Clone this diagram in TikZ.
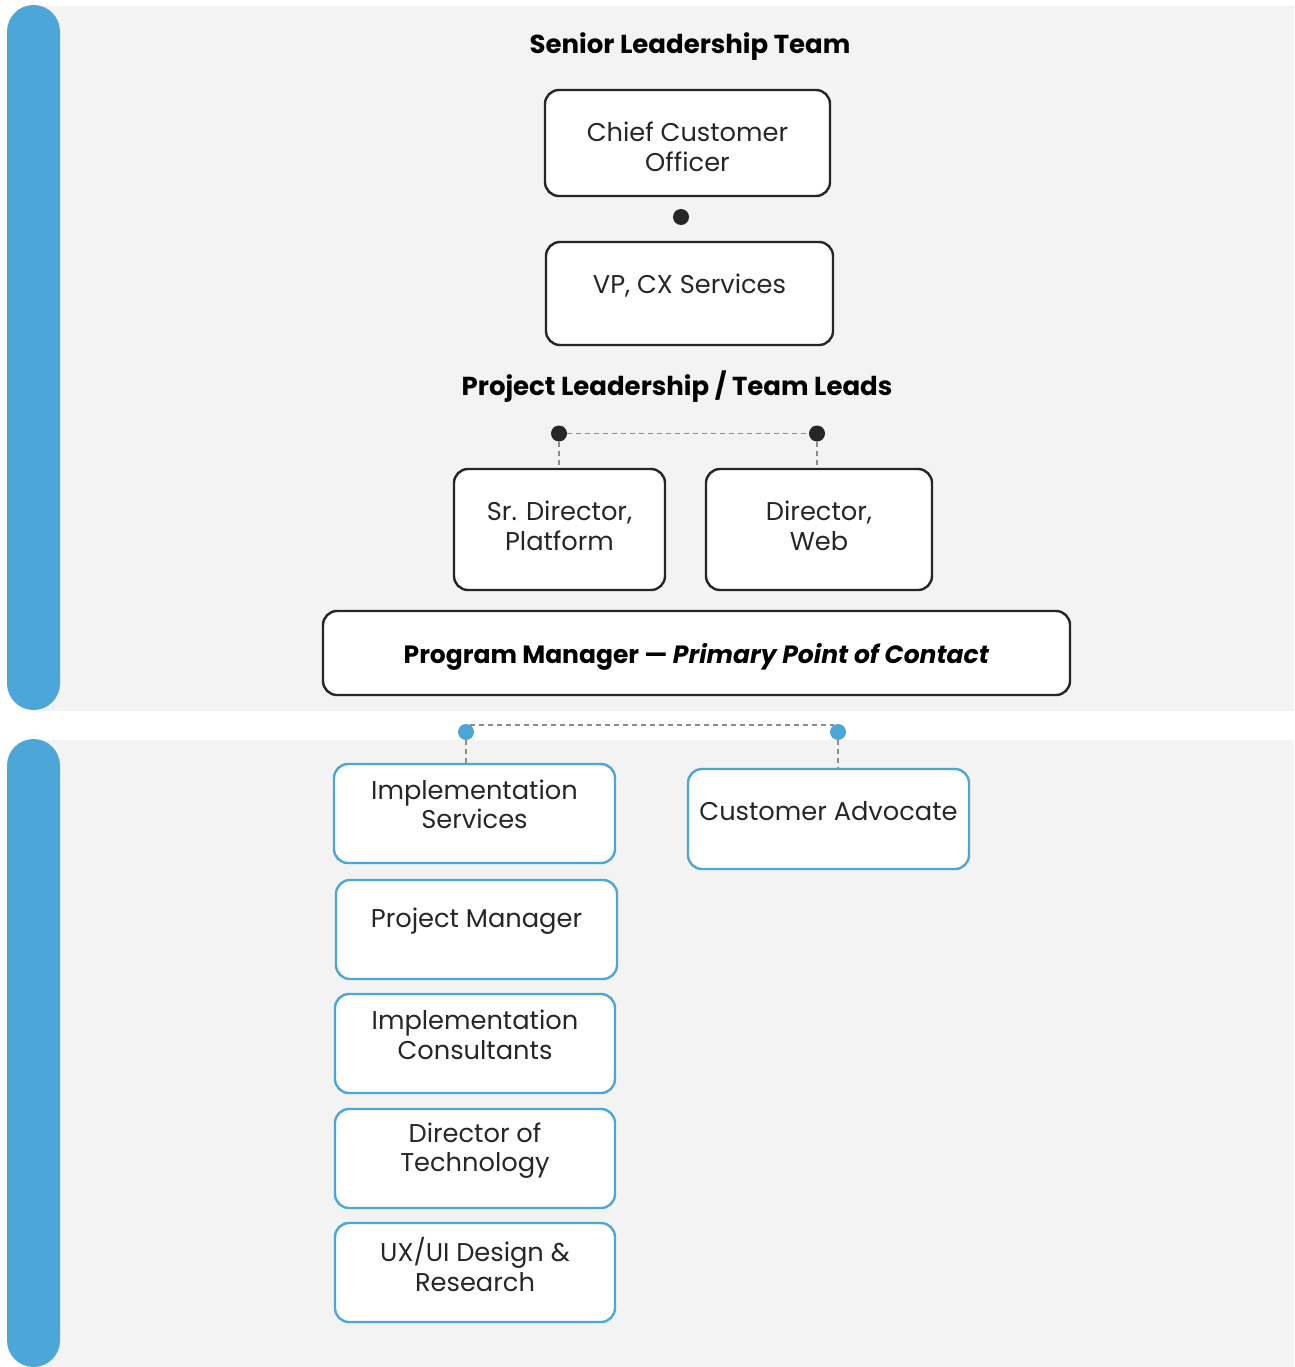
\documentclass[tikz,border=0pt]{standalone}
\usepackage{fontspec}
\setmainfont{Poppins}
\usetikzlibrary{calc}
\definecolor{panelgray}{HTML}{F3F3F3}
\definecolor{barblue}{HTML}{4DA6D8}
\definecolor{boxblack}{HTML}{262626}
\definecolor{dashgray}{HTML}{8C8C8C}
\tikzset{
  blackbox/.style={draw=boxblack, line width=2.4pt, fill=white, rounded corners=14pt, inner sep=0pt},
  bluebox/.style={draw=barblue, line width=2.4pt, fill=white, rounded corners=14pt, inner sep=0pt},
  boxtext/.style={font=\fontsize{25.7}{29.5}\selectfont, text=boxblack, align=center, inner sep=0pt},
  title/.style={font=\fontsize{26}{30}\selectfont\bfseries, text=black, inner sep=0pt},
  blackdot/.style={circle, fill=boxblack, minimum size=16pt, inner sep=0pt},
  bluedot/.style={circle, fill=barblue, minimum size=16pt, inner sep=0pt},
  link/.style={draw=dashgray, line width=1.4pt, dash pattern=on 5pt off 4pt},
}
\begin{document}
\begin{tikzpicture}[x=1pt, y=-1pt]
\useasboundingbox (0,0) rectangle (1294,1367);
% panels
\fill[panelgray] (33,6) rectangle (1294,711);
\fill[panelgray] (33,740) rectangle (1294,1367);
\fill[barblue, rounded corners=26.5pt] (7,5) rectangle (60,710);
\fill[barblue, rounded corners=26.5pt] (7,739) rectangle (60,1367);
% titles
\node[title] (tSenior) at (690,47) {Senior Leadership Team};
\node[title] (tProject) at (677,387) {Project Leadership / Team Leads};
% top boxes
\node[blackbox, minimum width=285pt, minimum height=106pt] (cco) at (687.5,143) {};
\node[boxtext] (tcco) at (687.5,147) {Chief Customer\\Officer};
\node[blackdot] (dcco) at (681,217) {};
\node[blackbox, minimum width=287pt, minimum height=103pt] (vp) at (689.5,293.5) {};
\node[boxtext] (tvp) at (689.5,286) {VP, CX Services};
% project leads
\node[blackdot] (d1) at (559,433.5) {};
\node[blackdot] (d2) at (817,433.5) {};
\node[blackbox, minimum width=211pt, minimum height=121pt] (sdp) at (559.5,529.5) {};
\node[boxtext] (tsdp) at (559.5,526) {Sr. Director,\\Platform};
\node[blackbox, minimum width=226pt, minimum height=121pt] (dw) at (819,529.5) {};
\node[boxtext] (tdw) at (819,526) {Director,\\Web};
\draw[link] (d1.east) -- (d2.west);
\draw[link] (d1.south) -- (d1 |- sdp.north);
\draw[link] (d2.south) -- (d2 |- dw.north);
% program manager
\node[blackbox, minimum width=747pt, minimum height=84pt] (pm) at (696.5,653) {};
\node[title, font=\fontsize{25}{30}\selectfont\bfseries] (tpm) at (696.5,657) {Program Manager --- \textit{Primary Point of Contact}};
% blue section
\node[bluedot] (b1) at (466,732) {};
\node[bluedot] (b2) at (838,732) {};
\node[bluebox, minimum width=281pt, minimum height=99pt] (is) at (474.5,813.5) {};
\node[boxtext] (tis) at (474.5,804.5) {Implementation\\Services};
\node[bluebox, minimum width=281pt, minimum height=100pt] (ca) at (828.5,819) {};
\node[boxtext] (tca) at (828.5,811) {Customer Advocate};
\draw[link] (b1.60) -- (b2.120);
\draw[link] (b1.south) -- (b1 |- is.north);
\draw[link] (b2.south) -- (b2 |- ca.north);
\node[bluebox, minimum width=281pt, minimum height=99pt] (prm) at (476.5,929.5) {};
\node[boxtext] (tprm) at (476.5,921.5) {Project Manager};
\node[bluebox, minimum width=280pt, minimum height=99pt] (ic) at (475,1043.5) {};
\node[boxtext] (tic) at (475,1035) {Implementation\\Consultants};
\node[bluebox, minimum width=280pt, minimum height=99pt] (dt) at (475,1158.5) {};
\node[boxtext] (tdt) at (475,1150.5) {Director of\\Technology};
\node[bluebox, minimum width=280pt, minimum height=99pt] (ux) at (475,1272.5) {};
\node[boxtext] (tux) at (475,1264.5) {UX/UI Design \&\\Research};
\end{tikzpicture}
\end{document}
